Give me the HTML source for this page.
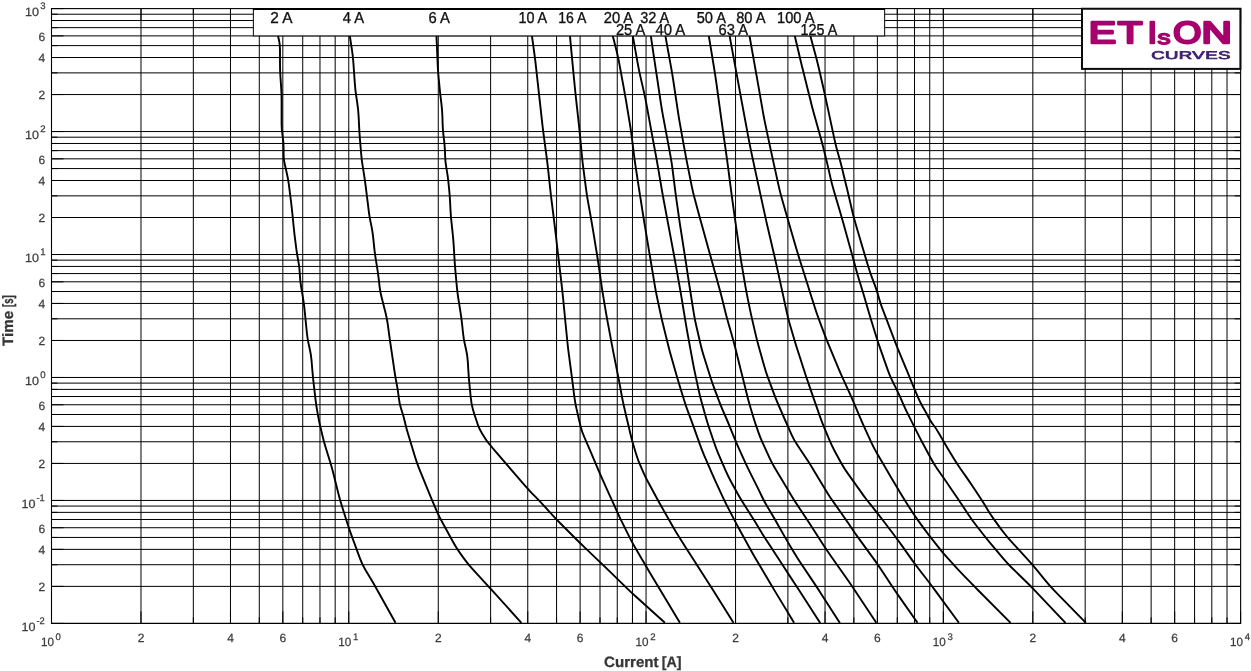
<!DOCTYPE html>
<html lang="en"><head><meta charset="utf-8"><title>ETIsON Curves</title>
<style>
html,body{margin:0;padding:0;background:#fff;}
body{width:1251px;height:671px;overflow:hidden;font-family:"Liberation Sans",sans-serif;}
svg{display:block;will-change:transform;text-rendering:geometricPrecision;}
</style></head><body>
<svg width="1251" height="671" viewBox="0 0 1251 671">
<rect x="0" y="0" width="1251" height="671" fill="#fff"/>
<g stroke="#000" stroke-width="1" fill="none">
<path d="M51.5 8.6V623.4M140.99 8.6V623.4M193.34 8.6V623.4M230.48 8.6V623.4M259.29 8.6V623.4M282.83 8.6V623.4M302.73 8.6V623.4M319.97 8.6V623.4M335.18 8.6V623.4M348.78 8.6V623.4M438.27 8.6V623.4M490.62 8.6V623.4M527.76 8.6V623.4M556.57 8.6V623.4M580.11 8.6V623.4M600.01 8.6V623.4M617.25 8.6V623.4M632.46 8.6V623.4M646.06 8.6V623.4M735.55 8.6V623.4M787.9 8.6V623.4M825.04 8.6V623.4M853.85 8.6V623.4M877.39 8.6V623.4M897.29 8.6V623.4M914.53 8.6V623.4M929.74 8.6V623.4M943.34 8.6V623.4M1032.83 8.6V623.4M1085.18 8.6V623.4M1122.32 8.6V623.4M1151.13 8.6V623.4M1174.67 8.6V623.4M1194.57 8.6V623.4M1211.81 8.6V623.4M1227.02 8.6V623.4M51.5 623.4H1240.62M51.5 586.39H1240.62M51.5 564.73H1240.62M51.5 549.37H1240.62M51.5 537.45H1240.62M51.5 527.72H1240.62M51.5 519.49H1240.62M51.5 512.36H1240.62M51.5 506.07H1240.62M51.5 500.44H1240.62M51.5 463.43H1240.62M51.5 441.77H1240.62M51.5 426.41H1240.62M51.5 414.49H1240.62M51.5 404.76H1240.62M51.5 396.53H1240.62M51.5 389.4H1240.62M51.5 383.11H1240.62M51.5 377.48H1240.62M51.5 340.47H1240.62M51.5 318.81H1240.62M51.5 303.45H1240.62M51.5 291.53H1240.62M51.5 281.8H1240.62M51.5 273.57H1240.62M51.5 266.44H1240.62M51.5 260.15H1240.62M51.5 254.52H1240.62M51.5 217.51H1240.62M51.5 195.85H1240.62M51.5 180.49H1240.62M51.5 168.57H1240.62M51.5 158.84H1240.62M51.5 150.61H1240.62M51.5 143.48H1240.62M51.5 137.19H1240.62M51.5 131.56H1240.62M51.5 94.55H1240.62M51.5 72.89H1240.62M51.5 57.53H1240.62M51.5 45.61H1240.62M51.5 35.88H1240.62M51.5 27.65H1240.62M51.5 20.52H1240.62M51.5 14.23H1240.62"/>
</g>
<path d="M51.5 623.4v-12M51.5 8.6v12M140.99 623.4v-12M140.99 8.6v12M193.34 623.4v-6M193.34 8.6v6M230.48 623.4v-12M230.48 8.6v12M259.29 623.4v-6M259.29 8.6v6M282.83 623.4v-12M282.83 8.6v12M302.73 623.4v-6M302.73 8.6v6M319.97 623.4v-6M319.97 8.6v6M335.18 623.4v-6M335.18 8.6v6M348.78 623.4v-12M348.78 8.6v12M438.27 623.4v-12M438.27 8.6v12M490.62 623.4v-6M490.62 8.6v6M527.76 623.4v-12M527.76 8.6v12M556.57 623.4v-6M556.57 8.6v6M580.11 623.4v-12M580.11 8.6v12M600.01 623.4v-6M600.01 8.6v6M617.25 623.4v-6M617.25 8.6v6M632.46 623.4v-6M632.46 8.6v6M646.06 623.4v-12M646.06 8.6v12M735.55 623.4v-12M735.55 8.6v12M787.9 623.4v-6M787.9 8.6v6M825.04 623.4v-12M825.04 8.6v12M853.85 623.4v-6M853.85 8.6v6M877.39 623.4v-12M877.39 8.6v12M897.29 623.4v-6M897.29 8.6v6M914.53 623.4v-6M914.53 8.6v6M929.74 623.4v-6M929.74 8.6v6M943.34 623.4v-12M943.34 8.6v12M1032.83 623.4v-12M1032.83 8.6v12M1085.18 623.4v-6M1085.18 8.6v6M1122.32 623.4v-12M1122.32 8.6v12M1151.13 623.4v-6M1151.13 8.6v6M1174.67 623.4v-12M1174.67 8.6v12M1194.57 623.4v-6M1194.57 8.6v6M1211.81 623.4v-6M1211.81 8.6v6M1227.02 623.4v-6M1227.02 8.6v6M1240.62 623.4v-12M1240.62 8.6v12M51.5 623.4h12M1240.62 623.4h-12M51.5 586.39h12M1240.62 586.39h-12M51.5 564.73h6M1240.62 564.73h-6M51.5 549.37h12M1240.62 549.37h-12M51.5 537.45h6M1240.62 537.45h-6M51.5 527.72h12M1240.62 527.72h-12M51.5 519.49h6M1240.62 519.49h-6M51.5 512.36h6M1240.62 512.36h-6M51.5 506.07h6M1240.62 506.07h-6M51.5 500.44h12M1240.62 500.44h-12M51.5 463.43h12M1240.62 463.43h-12M51.5 441.77h6M1240.62 441.77h-6M51.5 426.41h12M1240.62 426.41h-12M51.5 414.49h6M1240.62 414.49h-6M51.5 404.76h12M1240.62 404.76h-12M51.5 396.53h6M1240.62 396.53h-6M51.5 389.4h6M1240.62 389.4h-6M51.5 383.11h6M1240.62 383.11h-6M51.5 377.48h12M1240.62 377.48h-12M51.5 340.47h12M1240.62 340.47h-12M51.5 318.81h6M1240.62 318.81h-6M51.5 303.45h12M1240.62 303.45h-12M51.5 291.53h6M1240.62 291.53h-6M51.5 281.8h12M1240.62 281.8h-12M51.5 273.57h6M1240.62 273.57h-6M51.5 266.44h6M1240.62 266.44h-6M51.5 260.15h6M1240.62 260.15h-6M51.5 254.52h12M1240.62 254.52h-12M51.5 217.51h12M1240.62 217.51h-12M51.5 195.85h6M1240.62 195.85h-6M51.5 180.49h12M1240.62 180.49h-12M51.5 168.57h6M1240.62 168.57h-6M51.5 158.84h12M1240.62 158.84h-12M51.5 150.61h6M1240.62 150.61h-6M51.5 143.48h6M1240.62 143.48h-6M51.5 137.19h6M1240.62 137.19h-6M51.5 131.56h12M1240.62 131.56h-12M51.5 94.55h12M1240.62 94.55h-12M51.5 72.89h6M1240.62 72.89h-6M51.5 57.53h12M1240.62 57.53h-12M51.5 45.61h6M1240.62 45.61h-6M51.5 35.88h12M1240.62 35.88h-12M51.5 27.65h6M1240.62 27.65h-6M51.5 20.52h6M1240.62 20.52h-6M51.5 14.23h6M1240.62 14.23h-6M51.5 8.6h12M1240.62 8.6h-12" stroke="#000" stroke-width="1" fill="none"/>
<g stroke="#000" stroke-width="1.9" fill="none" stroke-linejoin="round" stroke-linecap="butt">
<path d="M277.2 30L277.6 33.2Q278 36.4 279 40.2L279 40.2Q280 44 280 50L280 64Q280 70 280.4 75.99L281.2 88.01Q281.6 94 281.6 100L281.6 124Q281.6 130 282.59 135.92L282.61 136.08Q283.6 142 283.6 148L283.6 152Q283.6 158 284.1 161L284.1 161Q284.6 164 286.02 169.83L286.58 172.17Q288 178 288.77 183.95L290.83 200.05Q291.6 206 292.2 211.97L293.8 228.03Q294.4 234 295.17 239.95L296.23 248.05Q297 254 298.1 259.9L298.5 262.1Q299.6 268 299.8 274L299.8 274Q300 280 300.99 285.92L301.01 286.08Q302 292 302.99 297.92L303.01 298.08Q304 304 304.6 309.97L307 334.03Q307.6 340 309.02 345.83L309.58 348.17Q311 354 311.5 359.98L312.5 372.02Q313 378 313.7 383.96L315.6 400.04Q316.3 406 317.37 411.9L318.13 416.1Q319.2 422 320.6 427.83L322.6 436.17Q324 442 325.76 447.73L330.24 462.27Q332 468 333.46 473.82L338.54 494.18Q340 500 341.81 505.72L347.19 522.78Q349 528.5 351.06 534.13L359.94 558.37Q362 564 365.05 569.17L371.95 580.83Q375 586 377.92 591.24L395.5 622.8"/>
<path d="M349 30L349.45 33.2Q349.9 36.4 350.81 42.33L351.99 50.07Q352.9 56 353.32 61.99L354.88 84.01Q355.3 90 356.19 95.93L357.41 104.07Q358.3 110 358.6 115.99L359.2 128.01Q359.5 134 360.01 139.98L361.19 154.02Q361.7 160 362.65 165.92L363.95 174.08Q364.9 180 365.64 185.95L366.16 190.05Q366.9 196 367.64 201.95L368.76 211.05Q369.5 217 370.76 222.87L371.24 225.13Q372.5 231 373.12 236.97L374.28 248.03Q374.9 254 375.89 259.92L376.91 266.08Q377.9 272 378.59 277.96L379.51 286.04Q380.2 292 381.7 297.81L385.4 312.19Q386.9 318 387.71 323.94L389.09 334.06Q389.9 340 390.77 345.94L394.63 372.06Q395.5 378 396.68 383.88L396.72 384.12Q397.9 390 398.58 395.96L398.82 398.04Q399.5 404 401.4 409.69L401.6 410.31Q403.5 416 404.86 421.84L404.94 422.16Q406.3 428 408.04 433.74L415.16 457.26Q416.9 463 419.15 468.56L429.65 494.44Q431.9 500 434.32 505.49L436.98 511.51Q439.4 517 442.28 522.26L453.52 542.74Q456.4 548 459.9 552.87L464.4 559.13Q467.9 564 471.95 568.42L485.85 583.58Q489.9 588 493.93 592.45L521.4 622.8"/>
<path d="M436.2 30L436.35 33.2Q436.5 36.4 436.75 42.39L437.65 64.01Q437.9 70 438.47 75.97L439.63 88.03Q440.2 94 440.94 99.95L441.46 104.05Q442.2 110 442.38 116L442.62 124Q442.8 130 443.54 135.95L444.06 140.05Q444.8 146 444.99 152L445.11 156Q445.3 162 446.35 167.91L446.75 170.09Q447.8 176 448.4 181.97L449.2 190.03Q449.8 196 450.1 201.99L450.5 210.01Q450.8 216 451.45 221.97L452.75 234.03Q453.4 240 453.75 245.99L454.45 258.01Q454.8 264 455.33 269.98L456.77 286.02Q457.3 292 458.23 297.93L460.47 312.07Q461.4 318 462.05 323.96L463.15 334.04Q463.8 340 465.2 345.83L466 349.17Q467.4 355 467.76 360.99L468.44 372.01Q468.8 378 469.4 383.97L470.8 398.03Q471.4 404 472.8 409L472.8 409Q474.2 414 475.6 418L475.6 418Q477 422 477.95 425L477.95 425Q478.9 428 481.92 433.18L482.88 434.82Q485.9 440 488.4 443L488.4 443Q490.9 446 494.81 450.55L523.89 484.45Q527.8 489 531.99 493.29L535.81 497.21Q540 501.5 544.06 505.92L552.94 515.58Q557 520 561.24 524.24L575.76 538.76Q580 543 584.34 547.14L597.66 559.86Q602 564 606.31 568.18L627.59 588.82Q631.9 593 636.35 597.02L664.9 622.8"/>
<path d="M531.2 30L531.6 33.2Q532 36.4 532.83 42.34L534.17 52.06Q535 58 535.66 63.96L538.34 88.04Q539 94 539.66 99.96L542.34 124.04Q543 130 543.8 135.95L546.5 156.05Q547.3 162 547.95 167.96L550.35 190.04Q551 196 551.74 201.95L554.26 222.05Q555 228 555.69 233.96L557.31 248.04Q558 254 558.71 259.96L561.79 286.04Q562.5 292 563.07 297.97L564.43 312.03Q565 318 565.6 323.97L567.4 342.03Q568 348 568.79 353.95L571.21 372.05Q572 378 572.74 383.95L574.26 396.05Q575 402 576.32 407.85L578.18 416.15Q579.5 422 580.75 427L580.75 427Q582 432 584.44 437.48L587.56 444.52Q590 450 592.31 455.54L597.69 468.46Q600 474 602.48 479.46L609.32 494.54Q611.8 500 614.29 505.46L617.51 512.54Q620 518 622.67 523.38L629.23 536.62Q631.9 542 634.92 547.18L635.88 548.82Q638.9 554 641.92 559.18L642.88 560.82Q645.9 566 648.98 571.15L679.9 622.8"/>
<path d="M569.4 30L569.7 33.2Q570 36.4 570.55 42.37L571.45 52.03Q572 58 572.58 63.97L574.92 88.03Q575.5 94 576.16 99.96L578.84 124.04Q579.5 130 580.06 135.97L581.94 156.03Q582.5 162 583.29 167.95L586.21 190.05Q587 196 588.05 201.91L590.95 218.09Q592 224 592.97 229.92L596.93 254.08Q597.9 260 598.75 265.94L601.65 286.06Q602.5 292 603.5 297.92L605.9 312.08Q606.9 318 608.01 323.9L611.79 344.1Q612.9 350 614.08 355.88L617.72 374.12Q618.9 380 619.97 385.9L621.83 396.1Q622.9 402 624.27 407.84L626.23 416.16Q627.6 422 628.99 427.84L630.51 434.16Q631.9 440 633.62 445.75L636.18 454.25Q637.9 460 640.34 465.48L643.46 472.52Q645.9 478 648.76 483.28L656.04 496.72Q658.9 502 661.86 507.22L672.94 526.78Q675.9 532 679.12 537.06L686.68 548.94Q689.9 554 693.14 559.05L704.66 576.95Q707.9 582 711.09 587.08L733.5 622.8"/>
<path d="M611.3 30L612.1 33.2Q612.9 36.4 614.38 42.21L616.42 50.19Q617.9 56 618.99 61.9L623.81 88.1Q624.9 94 625.89 99.92L629.91 124.08Q630.9 130 631.64 135.95L634.16 156.05Q634.9 162 635.81 167.93L638.59 186.07Q639.5 192 640.43 197.93L642.97 214.07Q643.9 220 644.89 225.92L648.91 250.08Q649.9 256 650.89 261.92L654.91 286.08Q655.9 292 657.16 297.87L660.64 314.13Q661.9 320 663.36 325.82L668.44 346.18Q669.9 352 671.55 357.77L676.25 374.23Q677.9 380 679.66 385.73L684.14 400.27Q685.9 406 688.01 411.62L689.79 416.38Q691.9 422 693.92 427.65L699.88 444.35Q701.9 450 704.26 455.51L711.54 472.49Q713.9 478 716.44 483.44L722.56 496.56Q725.1 502 727.84 507.34L733.16 517.66Q735.9 523 738.78 528.26L748.92 546.74Q751.8 552 754.84 557.17L768.76 580.83Q771.8 586 774.91 591.13L794.1 622.8"/>
<path d="M631.8 30L632.35 33.2Q632.9 36.4 633.95 42.31L637.85 64.09Q638.9 70 640.24 75.85L643.96 92.15Q645.3 98 646.38 103.9L650.82 128.1Q651.9 134 653 139.9L656 156.1Q657.1 162 658.11 167.91L661.89 190.09Q662.9 196 664.01 201.9L667.79 222.1Q668.9 228 670.01 233.9L673.79 254.1Q674.9 260 675.95 265.91L679.55 286.09Q680.6 292 681.58 297.92L685.92 324.08Q686.9 330 687.99 335.9L692.81 362.1Q693.9 368 695.16 373.87L698.64 390.13Q699.9 396 701.52 401.78L705.58 416.22Q707.2 422 709.1 427.69L714 442.31Q715.9 448 718.26 453.51L725.54 470.49Q727.9 476 730.8 481.25L737.7 493.75Q740.6 499 743.83 504.05L748.57 511.45Q751.8 516.5 754.93 521.62L761.07 531.68Q764.2 536.8 767.47 541.83L784.23 567.57Q787.5 572.6 790.8 577.61L792.7 580.49Q796 585.5 799.26 590.54L820.2 622.9"/>
<path d="M650 30L650.45 33.2Q650.9 36.4 651.78 42.33L655.02 64.07Q655.9 70 656.79 75.93L661.01 104.07Q661.9 110 663.01 115.9L666.79 136.1Q667.9 142 668.99 147.9L670.51 156.1Q671.6 162 672.35 167.95L675.15 190.05Q675.9 196 676.75 201.94L679.05 218.06Q679.9 224 680.83 229.93L683.97 250.07Q684.9 256 685.81 261.93L689.49 286.07Q690.4 292 691.35 297.92L693.95 314.08Q694.9 320 696.26 325.84L700.54 344.16Q701.9 350 703.69 355.73L710.11 376.27Q711.9 382 714.01 387.62L718.79 400.38Q720.9 406 723.3 411.5L725.5 416.5Q727.9 422 730.15 427.56L734.55 438.44Q736.8 444 739.3 449.45L745.3 462.55Q747.8 468 750.48 473.37L757.12 486.63Q759.8 492 761.65 496L761.65 496Q763.5 500 766.53 505.18L772.47 515.32Q775.5 520.5 778.47 525.72L784.53 536.38Q787.5 541.6 790.57 546.75L793.13 551.05Q796.2 556.2 799.53 561.19L814.17 583.11Q817.5 588.1 820.75 593.15L839.9 622.9"/>
<path d="M664.4 30L664.95 33.2Q665.5 36.4 666.57 42.3L671.23 68.1Q672.3 74 673.19 79.93L678.01 112.07Q678.9 118 679.95 123.91L682.85 140.09Q683.9 146 685.01 151.9L685.79 156.1Q686.9 162 688.08 167.88L691.72 186.12Q692.9 192 694.46 197.79L698.34 212.21Q699.9 218 701.51 223.78L708.29 248.22Q709.9 254 711.5 259.78L718.8 286.22Q720.4 292 721.86 297.82L725.44 312.18Q726.9 318 728.56 323.77L732.14 336.23Q733.8 342 735.26 347.82L740.34 368.18Q741.8 374 743.26 379.82L747.34 396.18Q748.8 402 750.52 407.75L753.08 416.25Q754.8 422 756.78 427.66L758.42 432.34Q760.4 438 762.91 443.45L769.39 457.55Q771.9 463 774.97 468.15L784.93 484.85Q788 490 791 495L791 495Q794 500 797.33 504.99L802.67 513.01Q806 518 809.25 523.04L822.75 543.96Q826 549 829.44 553.92L848.46 581.08Q851.9 586 855.22 591L876.3 622.8"/>
<path d="M707.8 30L708.35 33.2Q708.9 36.4 709.87 42.32L714.43 70.08Q715.4 76 716.22 81.94L721.18 118.06Q722 124 722.84 129.94L726.56 156.06Q727.4 162 728.17 167.95L731.03 190.05Q731.8 196 732.62 201.94L734.58 216.06Q735.4 222 736.26 227.94L740.04 254.06Q740.9 260 741.92 265.91L745.38 286.09Q746.4 292 747.6 297.88L749.7 308.12Q750.9 314 752.25 319.85L755.55 334.15Q756.9 340 758.52 345.78L764.28 366.22Q765.9 372 767.98 377.63L773.82 393.37Q775.9 399 778.29 404.5L783.51 416.5Q785.9 422 788.36 427.47L791.54 434.53Q794 440 797.33 444.99L806.67 459.01Q810 464 813.07 469.15L824.83 488.85Q827.9 494 829.95 497L829.95 497Q832 500 835.47 504.89L842.43 514.71Q845.9 519.6 849.21 524.6L850.99 527.3Q854.3 532.3 857.84 537.15L874.06 559.35Q877.6 564.2 880.9 569.21L892.6 586.99Q895.9 592 899.35 596.91L917.5 622.8"/>
<path d="M728.6 30L729.15 33.2Q729.7 36.4 730.79 42.3L734.81 64.1Q735.9 70 736.99 75.9L741.81 102.1Q742.9 108 744 113.9L748.9 140.1Q750 146 751.25 151.87L752.15 156.13Q753.4 162 754.67 167.86L758.63 186.14Q759.9 192 761.18 197.86L765.62 218.14Q766.9 224 768.27 229.84L773.53 252.16Q774.9 258 776.19 263.86L781.11 286.14Q782.4 292 783.66 297.87L786.74 312.13Q788 318 789.68 323.76L793.32 336.24Q795 342 796.83 347.71L804.07 370.29Q805.9 376 807.86 381.67L812.94 396.33Q814.9 402 816.88 407.66L819.92 416.34Q821.9 422 824.21 427.54L829.59 440.46Q831.9 446 834.77 451.27L841.03 462.73Q843.9 468 847.39 472.88L860.41 491.12Q863.9 496 865.4 498L865.4 498Q866.9 500 870.65 504.69L875.15 510.31Q878.9 515 882.53 519.78L894.27 535.22Q897.9 540 901.37 544.9L911.43 559.1Q914.9 564 918.57 568.75L928.23 581.25Q931.9 586 935.45 590.84L958.9 622.8"/>
<path d="M748.5 30L749.05 33.2Q749.6 36.4 750.65 42.31L755.95 72.09Q757 78 758.03 83.91L762.97 112.09Q764 118 765.24 123.87L768.66 140.13Q769.9 146 771.18 151.86L772.12 156.14Q773.4 162 774.69 167.86L778.71 186.14Q780 192 781.65 197.77L786.35 214.23Q788 220 789.68 225.76L796.22 248.24Q797.9 254 799.72 259.72L803.08 270.28Q804.9 276 806.69 281.73L808.11 286.27Q809.9 292 811.72 297.72L815.08 308.28Q816.9 314 819.01 319.62L823.79 332.38Q825.9 338 828.18 343.55L837.62 366.45Q839.9 372 842.41 377.45L849.39 392.55Q851.9 398 854.21 403.54L859.59 416.46Q861.9 422 864.41 427.45L871.39 442.55Q873.9 448 876.92 453.18L884.88 466.82Q887.9 472 890.96 477.16L900.84 493.84Q903.9 499 907.16 504.04L911.64 510.96Q914.9 516 918.41 520.86L924.39 529.14Q927.9 534 931.65 538.69L940.15 549.31Q943.9 554 947.95 558.43L955.85 567.07Q959.9 571.5 964.07 575.81L970.23 582.19Q974.4 586.5 978.64 590.75L1010.6 622.8"/>
<path d="M793.4 30L794.15 33.2Q794.9 36.4 796.28 42.24L800.52 60.16Q801.9 66 803.36 71.82L807.44 88.18Q808.9 94 810.36 99.82L811.44 104.18Q812.9 110 814.52 115.78L820.28 136.22Q821.9 142 823.36 147.82L825.44 156.18Q826.9 162 828.23 167.85L830.57 178.15Q831.9 184 833.59 189.76L840.21 212.24Q841.9 218 843.51 223.78L850.29 248.22Q851.9 254 853.48 259.79L856.32 270.21Q857.9 276 859.69 281.73L861.11 286.27Q862.9 292 864.58 297.76L868.22 310.24Q869.9 316 871.66 321.73L876.14 336.27Q877.9 342 879.9 347.66L887.9 370.34Q889.9 376 892.58 381.37L895.22 386.63Q897.9 392 900.34 397.48L903.46 404.52Q905.9 410 908.58 415.37L909.22 416.63Q911.9 422 914.58 427.37L917.22 432.63Q919.9 438 922.74 443.28L931.06 458.72Q933.9 464 937.32 468.93L944.38 479.07Q947.8 484 951.18 488.96L956.02 496.04Q959.4 501 962.72 506L968.68 515Q972 520 975.68 524.74L982.32 533.26Q986 538 989.86 542.59L1003.14 558.41Q1007 563 1011.29 567.2L1027.21 582.8Q1031.5 587 1035.63 591.35L1065.5 622.8"/>
<path d="M808.8 30L809.65 33.2Q810.5 36.4 812.07 42.19L815.33 54.21Q816.9 60 818.26 65.84L822.54 84.16Q823.9 90 825.16 95.87L828.64 112.13Q829.9 118 831.16 123.87L834.64 140.13Q835.9 146 837.56 151.77L838.84 156.23Q840.5 162 841.93 167.83L844.47 178.17Q845.9 184 847.27 189.84L852.53 212.16Q853.9 218 855.59 223.76L862.21 246.24Q863.9 252 865.62 257.75L868.18 266.25Q869.9 272 872.01 277.62L875.29 286.38Q877.4 292 878.65 297L878.65 297Q879.9 302 882.04 307.61L893.76 338.39Q895.9 344 898.18 349.55L907.62 372.45Q909.9 378 912.21 383.54L917.59 396.46Q919.9 402 922.92 407.18L923.88 408.82Q926.9 414 928.9 418L928.9 418Q930.9 422 933.4 425L933.4 425Q935.9 428 938.88 433.21L940.92 436.79Q943.9 442 946.97 447.16L952.73 456.84Q955.8 462 959.24 466.92L966.36 477.08Q969.8 482 973.11 487.01L978.39 494.99Q981.7 500 984.84 505.11L987.76 509.89Q990.9 515 994.39 519.88L997.41 524.12Q1000.9 529 1004.45 533.5L1004.45 533.5Q1008 538 1012.06 542.42L1027.84 559.58Q1031.9 564 1035.7 568.64L1046.1 581.36Q1049.9 586 1054.1 590.29L1085.9 622.8"/>
</g>
<rect x="51.5" y="8.6" width="1189.12" height="614.8" fill="none" stroke="#000" stroke-width="1.1"/>
<rect x="253.4" y="8.6" width="631.2" height="27.3" fill="#fff" stroke="#1a1a1a" stroke-width="1.1"/>
<path d="M252.9 8.9H884.9" stroke="#000" stroke-width="2"/>
<g font-family="'Liberation Sans', sans-serif" font-size="15.9" fill="#111" stroke="#111" stroke-width="0.35">
<text x="270.3" y="22.8" textLength="22.2" lengthAdjust="spacingAndGlyphs">2 A</text>
<text x="342.8" y="22.8" textLength="21.4" lengthAdjust="spacingAndGlyphs">4 A</text>
<text x="428.4" y="22.8" textLength="21.4" lengthAdjust="spacingAndGlyphs">6 A</text>
<text x="518.4" y="22.8" textLength="28.8" lengthAdjust="spacingAndGlyphs">10 A</text>
<text x="558.3" y="22.8" textLength="28.1" lengthAdjust="spacingAndGlyphs">16 A</text>
<text x="603.7" y="22.8" textLength="29.5" lengthAdjust="spacingAndGlyphs">20 A</text>
<text x="640.2" y="22.8" textLength="29" lengthAdjust="spacingAndGlyphs">32 A</text>
<text x="696.7" y="22.8" textLength="29.3" lengthAdjust="spacingAndGlyphs">50 A</text>
<text x="736.2" y="22.8" textLength="29.4" lengthAdjust="spacingAndGlyphs">80 A</text>
<text x="777.1" y="22.8" textLength="37.3" lengthAdjust="spacingAndGlyphs">100 A</text>
<text x="615.9" y="34.9" textLength="29.3" lengthAdjust="spacingAndGlyphs">25 A</text>
<text x="655.4" y="34.9" textLength="29.8" lengthAdjust="spacingAndGlyphs">40 A</text>
<text x="718.6" y="34.9" textLength="29.5" lengthAdjust="spacingAndGlyphs">63 A</text>
<text x="800.6" y="34.9" textLength="36.7" lengthAdjust="spacingAndGlyphs">125 A</text>
</g>
<rect x="1082" y="8.75" width="158.4" height="60.15" fill="#fff" stroke="#0d0a0a" stroke-width="2"/>
<g font-family="'Liberation Sans', sans-serif" font-weight="normal" fill="#a6006c" stroke="#a6006c" stroke-width="2.4" stroke-linejoin="round" font-size="30.6">
<text transform="translate(1088.82,43.2) scale(1.3397,1)">E</text>
<text transform="translate(1117.87,43.2) scale(1.3205,1)">T</text>
<text transform="translate(1147.65,43.2) scale(1.0728,1)">I</text>
<text transform="translate(1173.23,43.2) scale(1.1788,1)">O</text>
<text transform="translate(1201.47,43.2) scale(1.3735,1)">N</text>
<text font-size="19.6" stroke-width="1.5" transform="translate(1157.5,43.6) scale(1.3320,1)">s</text>
</g>
<text font-family="'Liberation Sans', sans-serif" font-size="11.2" fill="#3f2272" stroke="#3f2272" stroke-width="0.7" letter-spacing="0.25" transform="translate(1151.2,58.6) scale(1.66,1)">CURVES</text>
<g font-family="'Liberation Sans', sans-serif" font-size="12" fill="#3c3c3c" stroke="#3c3c3c" stroke-width="0.25">
<text x="35.5" y="630.9" text-anchor="end" textLength="14" lengthAdjust="spacingAndGlyphs">10</text>
<text x="36.5" y="624" font-size="9.6" textLength="8.3" lengthAdjust="spacingAndGlyphs">-2</text>
<text x="45.2" y="591.29" text-anchor="end">2</text>
<text x="45.2" y="554.27" text-anchor="end">4</text>
<text x="45.2" y="532.62" text-anchor="end">6</text>
<text x="35.5" y="507.94" text-anchor="end" textLength="14" lengthAdjust="spacingAndGlyphs">10</text>
<text x="36.5" y="501.04" font-size="9.6" textLength="8.3" lengthAdjust="spacingAndGlyphs">-1</text>
<text x="45.2" y="468.33" text-anchor="end">2</text>
<text x="45.2" y="431.31" text-anchor="end">4</text>
<text x="45.2" y="409.66" text-anchor="end">6</text>
<text x="39" y="384.98" text-anchor="end" textLength="14" lengthAdjust="spacingAndGlyphs">10</text>
<text x="40.2" y="378.08" font-size="9.6">0</text>
<text x="45.2" y="345.37" text-anchor="end">2</text>
<text x="45.2" y="308.35" text-anchor="end">4</text>
<text x="45.2" y="286.7" text-anchor="end">6</text>
<text x="39" y="262.02" text-anchor="end" textLength="14" lengthAdjust="spacingAndGlyphs">10</text>
<text x="40.2" y="255.12" font-size="9.6">1</text>
<text x="45.2" y="222.41" text-anchor="end">2</text>
<text x="45.2" y="185.39" text-anchor="end">4</text>
<text x="45.2" y="163.74" text-anchor="end">6</text>
<text x="39" y="139.06" text-anchor="end" textLength="14" lengthAdjust="spacingAndGlyphs">10</text>
<text x="40.2" y="132.16" font-size="9.6">2</text>
<text x="45.2" y="99.45" text-anchor="end">2</text>
<text x="45.2" y="62.43" text-anchor="end">4</text>
<text x="45.2" y="40.78" text-anchor="end">6</text>
<text x="39" y="16.1" text-anchor="end" textLength="14" lengthAdjust="spacingAndGlyphs">10</text>
<text x="40.2" y="9.2" font-size="9.6">3</text>
<text x="53.9" y="645.8" text-anchor="end" textLength="13" lengthAdjust="spacingAndGlyphs">10</text>
<text x="55.6" y="640.3" font-size="9.6">0</text>
<text x="140.99" y="641.7" text-anchor="middle">2</text>
<text x="230.48" y="641.7" text-anchor="middle">4</text>
<text x="282.83" y="641.7" text-anchor="middle">6</text>
<text x="351.18" y="645.8" text-anchor="end" textLength="13" lengthAdjust="spacingAndGlyphs">10</text>
<text x="352.88" y="640.3" font-size="9.6">1</text>
<text x="438.27" y="641.7" text-anchor="middle">2</text>
<text x="527.76" y="641.7" text-anchor="middle">4</text>
<text x="580.11" y="641.7" text-anchor="middle">6</text>
<text x="648.46" y="645.8" text-anchor="end" textLength="13" lengthAdjust="spacingAndGlyphs">10</text>
<text x="650.16" y="640.3" font-size="9.6">2</text>
<text x="735.55" y="641.7" text-anchor="middle">2</text>
<text x="825.04" y="641.7" text-anchor="middle">4</text>
<text x="877.39" y="641.7" text-anchor="middle">6</text>
<text x="945.74" y="645.8" text-anchor="end" textLength="13" lengthAdjust="spacingAndGlyphs">10</text>
<text x="947.44" y="640.3" font-size="9.6">3</text>
<text x="1032.83" y="641.7" text-anchor="middle">2</text>
<text x="1122.32" y="641.7" text-anchor="middle">4</text>
<text x="1174.67" y="641.7" text-anchor="middle">6</text>
<text x="1243.02" y="645.8" text-anchor="end" textLength="13" lengthAdjust="spacingAndGlyphs">10</text>
<text x="1244.72" y="640.3" font-size="9.6">4</text>
</g>
<g font-family="'Liberation Sans', sans-serif" font-weight="bold" font-size="15" fill="#363636" stroke="#363636" stroke-width="0.3">
<text x="604.1" y="666.5" textLength="54.4" lengthAdjust="spacingAndGlyphs">Current</text>
<text x="661.7" y="666.5" textLength="19.8" lengthAdjust="spacingAndGlyphs">[A]</text>
<text transform="translate(13.2,346.1) rotate(-90)" textLength="35.2" lengthAdjust="spacingAndGlyphs">Time</text>
<text transform="translate(13.2,306.9) rotate(-90)" textLength="11.6" lengthAdjust="spacingAndGlyphs">[s]</text>
</g>
</svg>
</body></html>
